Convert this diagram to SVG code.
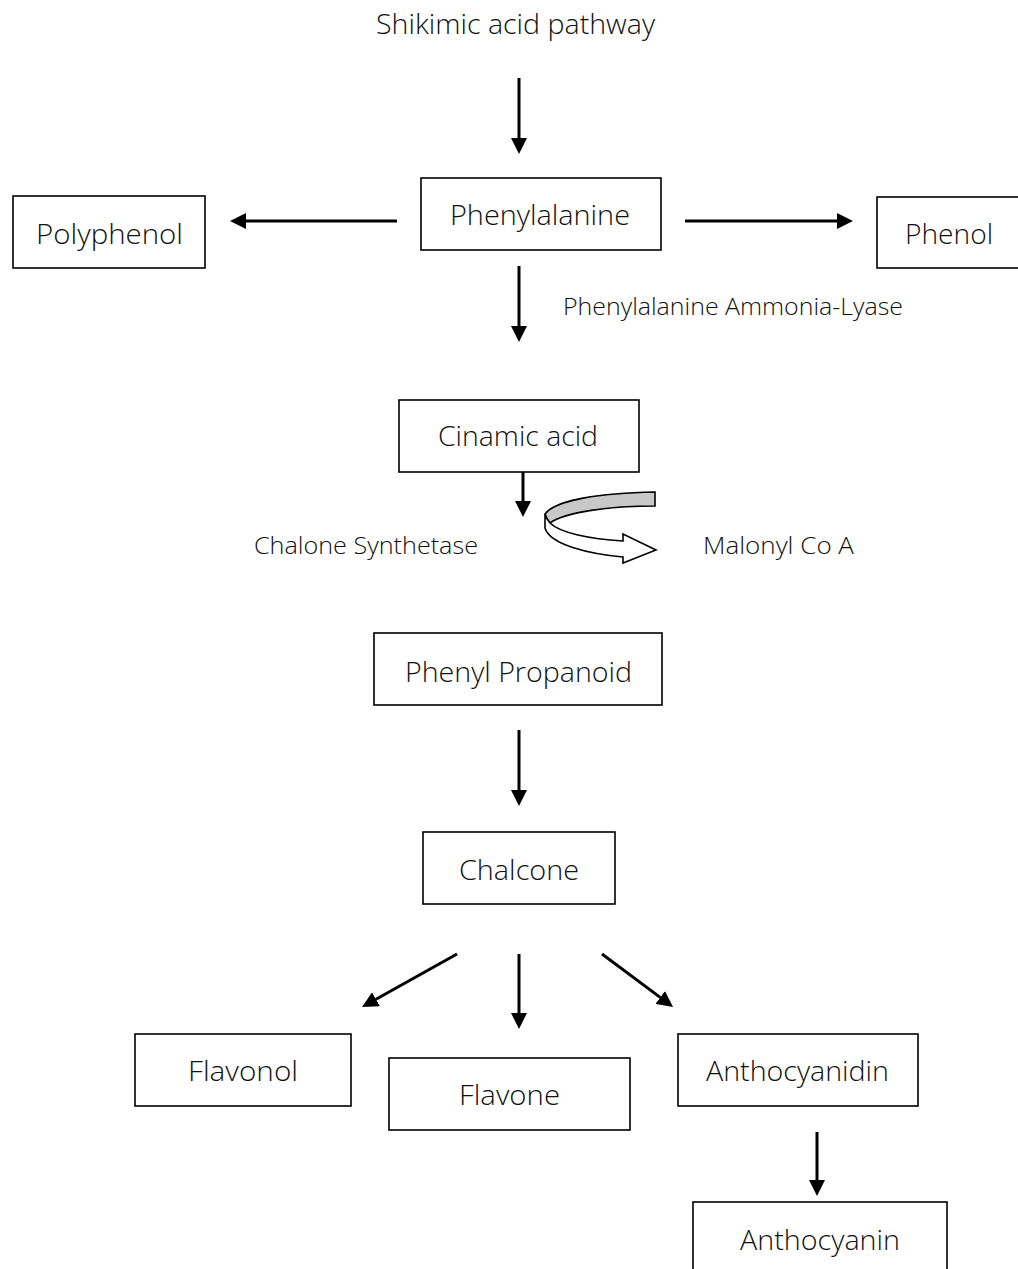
<svg xmlns="http://www.w3.org/2000/svg" width="1018" height="1269" viewBox="0 0 1018 1269">
<style>
.box{fill:#fff;stroke:#000;stroke-width:1.6}
.t{font-family:"Open Sans","Noto Sans",sans-serif;font-size:28px;font-weight:300;fill:#111}
.s{font-family:"Open Sans","Noto Sans",sans-serif;font-size:24px;font-weight:300;fill:#111}
.a{stroke:#000;stroke-width:3;fill:none;marker-end:url(#ah)}
</style>
<defs>
<marker id="ah" viewBox="0 0 16 16" refX="0" refY="8" markerWidth="16" markerHeight="16" markerUnits="userSpaceOnUse" orient="auto">
<path d="M0,0 L16,8 L0,16 Z" fill="#000"/>
</marker>
</defs>
<rect width="1018" height="1269" fill="#fff"/>
<g id="title"><text class="t" x="376" y="34" textLength="279" lengthAdjust="spacingAndGlyphs">Shikimic acid pathway</text></g>
<g id="phenylalanine"><rect class="box" x="421" y="178" width="240" height="72"/><text class="t" x="450" y="225" textLength="180" lengthAdjust="spacingAndGlyphs">Phenylalanine</text></g>
<g id="polyphenol"><rect class="box" x="13" y="196" width="192" height="72"/><text class="t" x="36" y="244" textLength="147" lengthAdjust="spacingAndGlyphs">Polyphenol</text></g>
<g id="phenol"><rect class="box" x="877" y="197" width="160" height="71"/><text class="t" x="905" y="244" textLength="88" lengthAdjust="spacingAndGlyphs">Phenol</text></g>
<g id="pal-label"><text class="s" x="563" y="315" textLength="340" lengthAdjust="spacingAndGlyphs">Phenylalanine Ammonia-Lyase</text></g>
<g id="cinamic"><rect class="box" x="399" y="400" width="240" height="72"/><text class="t" x="438" y="446" textLength="160" lengthAdjust="spacingAndGlyphs">Cinamic acid</text></g>
<g id="chalone-label"><text class="s" x="254" y="554" textLength="224" lengthAdjust="spacingAndGlyphs">Chalone Synthetase</text></g>
<g id="malonyl-label"><text class="s" x="703" y="554" textLength="151" lengthAdjust="spacingAndGlyphs">Malonyl Co A</text></g>
<g id="phenylpropanoid"><rect class="box" x="374" y="633" width="288" height="72"/><text class="t" x="405" y="682" textLength="227" lengthAdjust="spacingAndGlyphs">Phenyl Propanoid</text></g>
<g id="chalcone"><rect class="box" x="423" y="832" width="192" height="72"/><text class="t" x="459" y="880" textLength="120" lengthAdjust="spacingAndGlyphs">Chalcone</text></g>
<g id="flavonol"><rect class="box" x="135" y="1034" width="216" height="72"/><text class="t" x="188" y="1081" textLength="110" lengthAdjust="spacingAndGlyphs">Flavonol</text></g>
<g id="flavone"><rect class="box" x="389" y="1058" width="241" height="72"/><text class="t" x="459" y="1105" textLength="101" lengthAdjust="spacingAndGlyphs">Flavone</text></g>
<g id="anthocyanidin"><rect class="box" x="678" y="1034" width="240" height="72"/><text class="t" x="706" y="1081" textLength="183" lengthAdjust="spacingAndGlyphs">Anthocyanidin</text></g>
<g id="anthocyanin"><rect class="box" x="693" y="1202" width="254" height="80"/><text class="t" x="740" y="1250" textLength="160" lengthAdjust="spacingAndGlyphs">Anthocyanin</text></g>
<g id="connectors">
<line class="a" x1="519" y1="78" x2="519" y2="138"/>
<line class="a" x1="397" y1="221" x2="246" y2="221"/>
<line class="a" x1="685" y1="221" x2="837" y2="221"/>
<line class="a" x1="519" y1="266" x2="519" y2="326"/>
<line class="a" x1="523" y1="472" x2="523" y2="501"/>
<line class="a" x1="519" y1="730" x2="519" y2="790"/>
<line class="a" x1="457" y1="954" x2="376" y2="999.2"/>
<line class="a" x1="519" y1="954" x2="519" y2="1013"/>
<line class="a" x1="602" y1="954" x2="660.2" y2="997.4"/>
<line class="a" x1="817" y1="1132" x2="817" y2="1180"/>
<g id="curved-arrow" stroke="#000" stroke-width="1.6" stroke-linejoin="miter">
<path d="M655,492 C600,493 555,500 545,514 C546,518 548,521 550,523 C565,512 610,506 655,506 Z" fill="#c8c8c8"/>
<path d="M545,514 L545,528 C550,545 590,554 623,557 L623,563 L656,550 L623,534 L623,541 C590,539 560,533 550,523 C548,521 546,518 545,514 Z" fill="#fff"/>
</g>
</g>
</svg>
